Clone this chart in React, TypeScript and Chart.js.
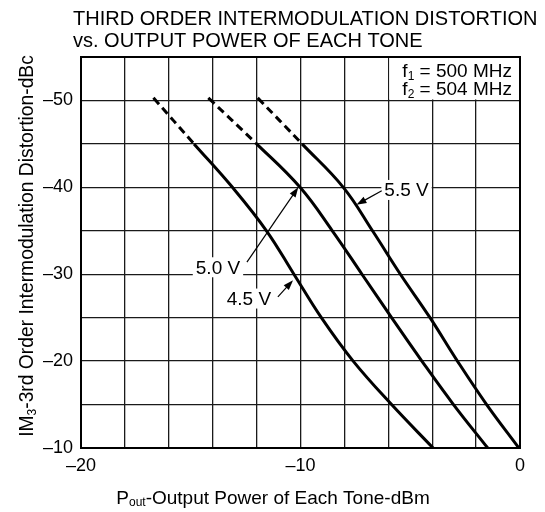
import React, { useEffect, useRef } from 'react';
import { Chart, registerables } from 'chart.js';

Chart.register(...registerables);

// Data
const im3Levels = [-50.3, -45, -40, -35, -30, -25, -20, -15, -10];
const pout45 = [-16.7, -14.85, -13.1, -11.55, -10.3, -9.05, -7.6, -5.85, -3.96];
const pout50 = [-14.2, -12.0, -10.02, -8.55, -7.2, -5.85, -4.47, -3.03, -1.47];
const pout55 = [-11.95, -9.93, -8.05, -6.72, -5.45, -4.1, -2.85, -1.52, -0.05];

const xTickLabels = [-20, -10, 0];
const yTickLabels = [-50, -40, -30, -20, -10];

const titleLines = ['THIRD ORDER INTERMODULATION DISTORTION', 'vs. OUTPUT POWER OF EACH TONE'];
const legendLines = [
  { main: 'f', sub: '1', rest: ' = 500 MHz' },
  { main: 'f', sub: '2', rest: ' = 504 MHz' },
];

// Curve labels (data coordinates)
const curveLabels = ['5.5 V', '5.0 V', '4.5 V'];
const labelX = [-5.17, -13.76, -12.35];
const labelY = [-39.7, -30.8, -27.2];
const arrowFromX = [-6.3, -12.44, -11.03];
const arrowFromY = [-39.6, -31.4, -27.4];
const arrowToX = [-7.45, -10.1, -10.34];
const arrowToY = [-38.0, -40.0, -29.3];

const FONT = "'Liberation Sans', Arial, Helvetica, sans-serif";

const toPts = (xs: number[], ys: number[]) => xs.map((v, i) => ({ x: v, y: ys[i] }));

const fmt = (v: number) => (v < 0 ? '\u2013' + Math.abs(v) : String(v));

function arrow(ctx: CanvasRenderingContext2D, x0: number, y0: number, x1: number, y1: number) {
  const ang = Math.atan2(y1 - y0, x1 - x0);
  const len = 10;
  const w = 3.5;
  ctx.beginPath();
  ctx.moveTo(x0, y0);
  ctx.lineTo(x1 - Math.cos(ang) * len * 0.8, y1 - Math.sin(ang) * len * 0.8);
  ctx.lineWidth = 1.2;
  ctx.strokeStyle = '#000';
  ctx.stroke();
  ctx.beginPath();
  ctx.moveTo(x1, y1);
  ctx.lineTo(x1 - Math.cos(ang) * len - Math.sin(ang) * w, y1 - Math.sin(ang) * len + Math.cos(ang) * w);
  ctx.lineTo(x1 - Math.cos(ang) * len + Math.sin(ang) * w, y1 - Math.sin(ang) * len - Math.cos(ang) * w);
  ctx.closePath();
  ctx.fillStyle = '#000';
  ctx.fill();
}

const decoPlugin = {
  id: 'deco',
  afterDatasetsDraw(chart: any) {
    const { ctx, chartArea: a, scales } = chart;
    const xs = scales.x;
    const ys = scales.y;
    ctx.save();

    // legend box (top right)
    const bx0 = xs.getPixelForValue(-6);
    const by1 = ys.getPixelForValue(-50);
    ctx.fillStyle = '#fff';
    ctx.fillRect(bx0 + 1, a.top + 1, a.right - bx0 - 2, by1 - a.top - 2);
    ctx.fillStyle = '#000';
    legendLines.forEach((ln, i) => {
      const base = a.top + 20 + i * 17.5;
      ctx.font = `19px ${FONT}`;
      const wMain = ctx.measureText(ln.main).width;
      const wRest = ctx.measureText(ln.rest).width;
      ctx.font = `12px ${FONT}`;
      const wSub = ctx.measureText(ln.sub).width;
      let x0 = a.right - 8 - (wMain + wSub + wRest);
      ctx.textBaseline = 'alphabetic';
      ctx.textAlign = 'left';
      ctx.font = `19px ${FONT}`;
      ctx.fillText(ln.main, x0, base);
      x0 += wMain;
      ctx.font = `12px ${FONT}`;
      ctx.fillText(ln.sub, x0, base + 3);
      x0 += wSub;
      ctx.font = `19px ${FONT}`;
      ctx.fillText(ln.rest, x0, base);
    });

    // curve labels
    ctx.font = `19px ${FONT}`;
    ctx.textAlign = 'center';
    ctx.textBaseline = 'middle';
    curveLabels.forEach((t, i) => {
      const cx = xs.getPixelForValue(labelX[i]);
      const cy = ys.getPixelForValue(labelY[i]);
      const w = ctx.measureText(t).width;
      ctx.fillStyle = '#fff';
      ctx.fillRect(cx - w / 2 - 3, cy - 10, w + 6, 20);
      ctx.fillStyle = '#000';
      ctx.fillText(t, cx, cy + 1);
      arrow(
        ctx,
        xs.getPixelForValue(arrowFromX[i]),
        ys.getPixelForValue(arrowFromY[i]),
        xs.getPixelForValue(arrowToX[i]),
        ys.getPixelForValue(arrowToY[i])
      );
    });

    // plot border
    ctx.lineWidth = 2;
    ctx.strokeStyle = '#000';
    ctx.strokeRect(a.left, a.top, a.right - a.left, a.bottom - a.top);
    ctx.restore();
  },
  afterDraw(chart: any) {
    const { ctx, chartArea: a } = chart;
    ctx.save();
    ctx.fillStyle = '#000';
    // title
    ctx.font = `20px ${FONT}`;
    ctx.textAlign = 'left';
    ctx.textBaseline = 'alphabetic';
    ctx.fillText(titleLines[0], a.left - 8, 25);
    ctx.fillText(titleLines[1], a.left - 8, 47);

    // x title with subscript
    const xBase = 504;
    ctx.font = `19px ${FONT}`;
    const p1 = 'P';
    const p3 = '-Output Power of Each Tone-dBm';
    const w1 = ctx.measureText(p1).width;
    const w3 = ctx.measureText(p3).width;
    ctx.font = `12px ${FONT}`;
    const w2 = ctx.measureText('out').width;
    let x0 = 273 - (w1 + w2 + w3) / 2;
    ctx.font = `19px ${FONT}`;
    ctx.fillText(p1, x0, xBase);
    x0 += w1;
    ctx.font = `12px ${FONT}`;
    ctx.fillText('out', x0, xBase + 2);
    x0 += w2;
    ctx.font = `19px ${FONT}`;
    ctx.fillText(p3, x0, xBase);

    // y title, rotated, with subscript
    ctx.translate(33, 246);
    ctx.rotate(-Math.PI / 2);
    const q1 = 'IM';
    const q3 = '-3rd Order Intermodulation Distortion-dBc';
    ctx.font = `19.3px ${FONT}`;
    const v1 = ctx.measureText(q1).width;
    const v3 = ctx.measureText(q3).width;
    ctx.font = `12px ${FONT}`;
    const v2 = ctx.measureText('3').width;
    let y0 = -(v1 + v2 + v3) / 2;
    ctx.font = `19.3px ${FONT}`;
    ctx.fillText(q1, y0, 0);
    y0 += v1;
    ctx.font = `12px ${FONT}`;
    ctx.fillText('3', y0, 3);
    y0 += v2;
    ctx.font = `19.3px ${FONT}`;
    ctx.fillText(q3, y0, 0);
    ctx.restore();
  },
};

const makeDs = (xs: number[]) => ({
  data: toPts(xs, im3Levels),
  borderColor: '#000',
  borderWidth: 3,
  pointRadius: 0,
  showLine: true,
  fill: false,
  tension: 0.4,
  segment: {
    borderDash: (c: any) => (c.p0DataIndex === 0 ? [8, 5] : undefined),
  },
});

export default function App() {
  const ref = useRef<HTMLCanvasElement | null>(null);
  useEffect(() => {
    if (!ref.current) return;
    const chart = new Chart(ref.current, {
      type: 'scatter',
      data: {
        datasets: [makeDs(pout45), makeDs(pout50), makeDs(pout55)] as any,
      },
      options: {
        animation: false,
        responsive: true,
        maintainAspectRatio: false,
        layout: { padding: { top: 57, right: 25, left: 0, bottom: 0 } },
        plugins: { legend: { display: false }, tooltip: { enabled: false }, title: { display: false } },
        scales: {
          x: {
            type: 'linear',
            min: -20,
            max: 0,
            afterFit: (s: any) => {
              s.height = 64;
            },
            ticks: {
              stepSize: 2,
              color: '#000',
              padding: 7,
              maxRotation: 0,
              autoSkip: false,
              font: { family: FONT, size: 18 },
              callback: (v: any) => (xTickLabels.includes(Number(v)) ? fmt(Number(v)) : ''),
            },
            grid: { color: '#1a1a1a', lineWidth: 1.3, drawTicks: false },
            border: { color: '#000', width: 2 },
          },
          y: {
            type: 'linear',
            min: -55,
            max: -10,
            reverse: true,
            afterFit: (s: any) => {
              s.width = 81;
            },
            ticks: {
              stepSize: 5,
              color: '#000',
              padding: 8,
              autoSkip: false,
              font: { family: FONT, size: 18 },
              callback: (v: any) => (yTickLabels.includes(Number(v)) ? fmt(Number(v)) : ''),
            },
            grid: { color: '#1a1a1a', lineWidth: 1.3, drawTicks: false },
            border: { color: '#000', width: 2 },
          },
        },
      },
      plugins: [decoPlugin],
    });
    return () => chart.destroy();
  }, []);
  return (
    <div style={{ position: 'fixed', left: 0, top: 0, width: 545, height: 512, background: '#fff' }}>
      <canvas ref={ref} />
    </div>
  );
}
